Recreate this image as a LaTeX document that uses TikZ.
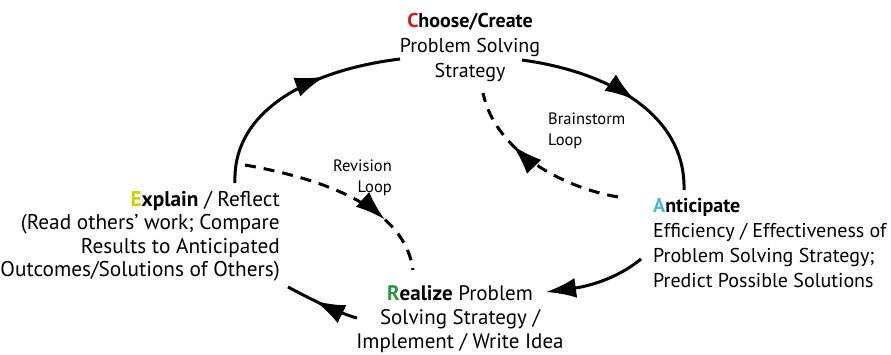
\documentclass[tikz,border=0pt]{standalone}
\usepackage{fontspec}
\setmainfont{PT Sans}
\usetikzlibrary{arrows.meta, decorations.markings}
\definecolor{chooseRed}{RGB}{200,30,30}
\definecolor{explainYellow}{RGB}{200,212,0}
\definecolor{anticipateBlue}{RGB}{80,180,210}
\definecolor{realizeGreen}{RGB}{40,150,70}

\tikzset{
  stage/.style={inner sep=0pt, font=\fontsize{20}{25}\selectfont},
  looplabel/.style={inner sep=0pt, font=\fontsize{16.5}{21}\selectfont},
  cycleline/.style={line width=3pt},
  loopline/.style={line width=3pt, dash pattern=on 11pt off 8pt},
  midarrow/.style={postaction={decorate}, decoration={markings,
      mark=at position #1 with {\arrow{Latex[length=30pt,width=20pt]}}}},
  endarrow/.style={-{Latex[length=30pt,width=20pt]}}
}

\begin{document}
\begin{tikzpicture}[x=1pt, y=-1pt]
        \useasboundingbox (0, 0) rectangle (891, 354);
        % Stages
        \node [stage, align=center, anchor=north] (choose) at (470, 13)
            {{\bfseries\textcolor{chooseRed}{C}hoose/Create}\\Problem Solving\\Strategy};
        \node [stage, align=left, anchor=north west] (anticipate) at (653, 198)
            {{\bfseries\textcolor{anticipateBlue}{A}nticipate}\\Efficiency / Effectiveness of\\Problem Solving Strategy;\\Predict Possible Solutions};
        \node [stage, font=\fontsize{21}{24}\selectfont, align=center, anchor=north] (realize) at (460, 285)
            {{\bfseries\textcolor{realizeGreen}{R}ealize} Problem\\Solving Strategy /\\Implement / Write Idea};
        \node [stage, font=\fontsize{21.3}{23.5}\selectfont, align=right, anchor=north east] (explain) at (280, 191)
            {{\bfseries\textcolor{explainYellow}{E}xplain} / Reflect\\(Read others’ work; Compare\\Results to Anticipated\\Outcomes/Solutions of Others)};
        % Loop labels
        \node [looplabel, align=left, anchor=north west] (brainstorm) at (548, 113) {Brainstorm\\Loop};
        \node [looplabel, align=right, anchor=north east] (revision) at (392, 160) {Revision\\Loop};
        % Ends of the connectors
        \coordinate (explainTop) at (235, 183);
        \coordinate (chooseLeft) at (400, 59);
        \coordinate (chooseRight) at (522, 60);
        \coordinate (chooseBelow) at (483, 93);
        \coordinate (anticipateTop) at (684, 190);
        \coordinate (anticipateLeft) at (641, 259);
        \coordinate (anticipateCorner) at (618, 197);
        \coordinate (realizeRight) at (546, 292);
        \coordinate (realizeLeft) at (357, 318);
        \coordinate (realizeTop) at (413, 270);
        \coordinate (explainRight) at (245, 165);
        \coordinate (explainBottom) at (288, 287);
        % Main cycle
        \draw [cycleline, midarrow=0.66] (explainTop) .. controls (232, 110) and (310, 70) .. (chooseLeft);
        \draw [cycleline, midarrow=0.53] (chooseRight) .. controls (610, 72) and (686, 115) .. (anticipateTop);
        \draw [cycleline, endarrow] (anticipateLeft) .. controls (618, 278) and (590, 286) .. (realizeRight);
        \draw [cycleline, midarrow=0.6] (realizeLeft) .. controls (335, 312) and (305, 296) .. (explainBottom);
        % Loops
        \draw [loopline, midarrow=0.66] (anticipateCorner) .. controls (560, 187) and (495, 150) .. (chooseBelow);
        \draw [loopline, midarrow=0.72] (explainRight) .. controls (330, 180) and (405, 210) .. (realizeTop);
    \end{tikzpicture}
\end{document}
